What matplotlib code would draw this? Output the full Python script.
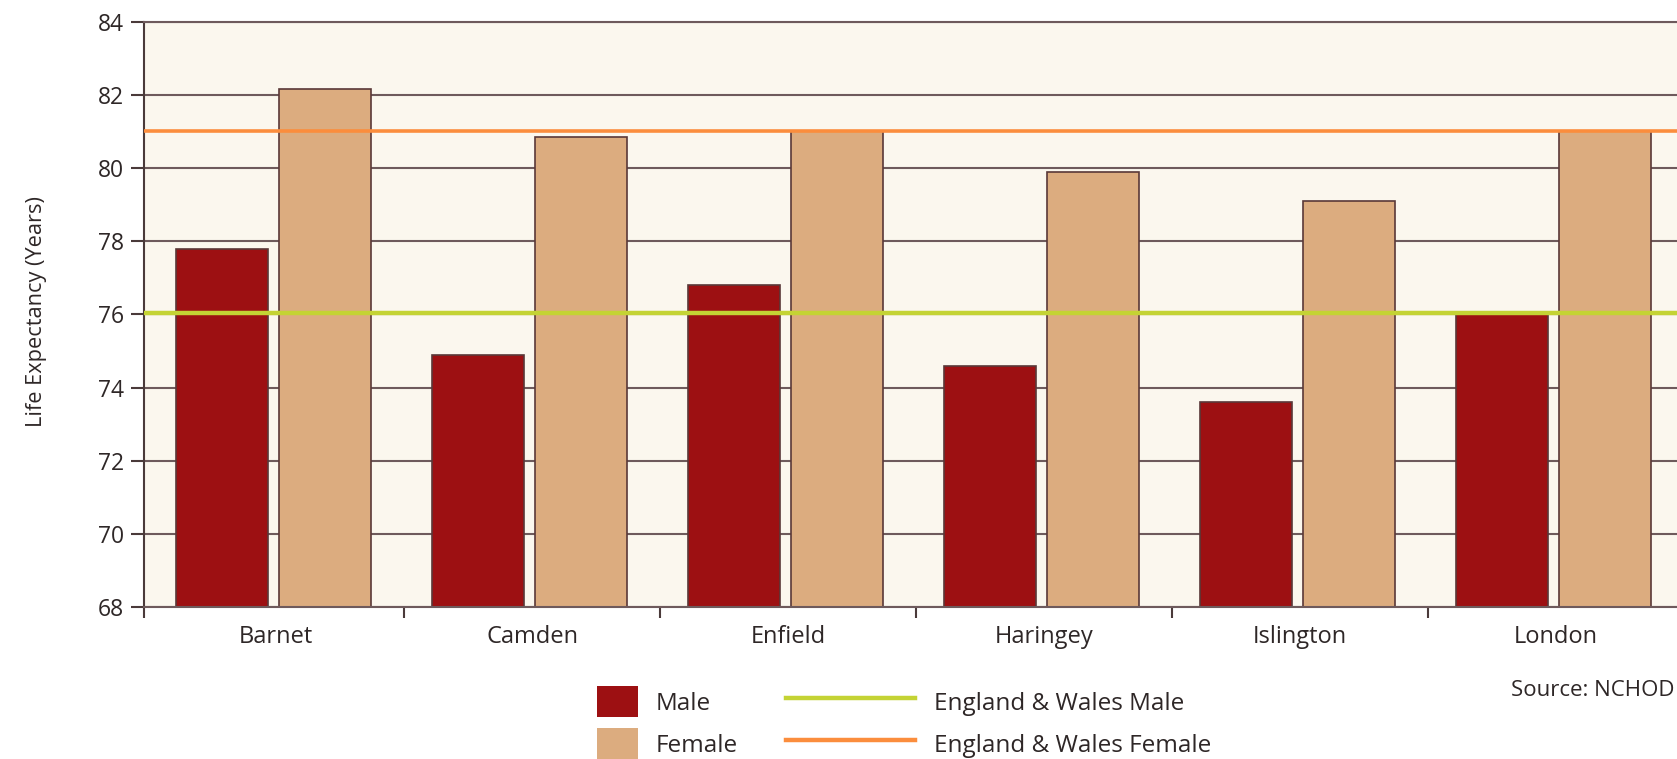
import matplotlib.pyplot as plt
import numpy as np
from matplotlib.patches import Patch
from matplotlib.lines import Line2D

plt.rcParams['font.family'] = ['Open Sans', 'DejaVu Sans']

# data
areas = ["Barnet", "Camden", "Enfield", "Haringey", "Islington", "London"]
male = [77.8, 74.9, 76.8, 74.6, 73.6, 76.0]
female = [82.15, 80.85, 81.0, 79.9, 79.1, 81.0]
ew_male = 76.05
ew_female = 81.0
y_ticks = [68, 70, 72, 74, 76, 78, 80, 82, 84]

c_male = "#9d1012"
c_female = "#dcac7f"
c_bg = "#fbf7ee"
c_grid = "#6e5a5c"
c_green = "#c4d334"
c_orange = "#fb8d3d"
c_text = "#2e2727"

W, H = 1677, 759
fig = plt.figure(figsize=(W / 100, H / 100), dpi=100)
ax = fig.add_axes([144 / W, (H - 607) / H, 1540 / W, 585.3 / H])
ax.set_facecolor(c_bg)

x = np.arange(len(areas))
ax.bar(x - 0.21, male, width=0.36, color=c_male,
       edgecolor="#5a3838", linewidth=1.2, zorder=2)
ax.bar(x + 0.19, female, width=0.36, color=c_female,
       edgecolor="#5a3838", linewidth=1.2, zorder=2)
ax.axhline(ew_male, color=c_green, lw=3.2, zorder=3)
ax.axhline(ew_female, color=c_orange, lw=2.6, zorder=3)

ax.set_ylim(68, 84)
ax.set_xlim(-0.516, 5.5)
ax.set_yticks(y_ticks)
ax.grid(axis="y", color=c_grid, lw=1.5, zorder=0)
ax.set_axisbelow(True)

ax.set_xticks(x)
ax.set_xticklabels(areas)
ax.set_xticks([-0.516] + list(x[:-1] + 0.5), minor=True)
ax.tick_params(axis="x", which="major", length=0, pad=13, labelsize=17, labelcolor=c_text)
ax.tick_params(axis="x", which="minor", length=8, width=1.5, color="#4a3a3a", direction="out")
ax.tick_params(axis="y", length=9.4, width=1.5, color="#4a3a3a", pad=5,
               labelsize=16.5, labelcolor=c_text)

ax.spines["right"].set_visible(False)
ax.spines["top"].set_color(c_grid)
ax.spines["top"].set_linewidth(1.5)
ax.spines["left"].set_color("#4a3a3a")
ax.spines["left"].set_linewidth(1.5)
ax.spines["bottom"].set_color(c_grid)
ax.spines["bottom"].set_linewidth(1.5)

ax.set_ylabel("Life Expectancy (Years)", fontsize=15.7, color=c_text)
ax.yaxis.set_label_coords((47 - 144) / 1540, 0.505)

# legends
bar_handles = [Patch(facecolor=c_male, edgecolor="none"),
               Patch(facecolor=c_female, edgecolor="none")]
fig.legend(bar_handles, ["Male", "Female"], loc="upper left",
           bbox_to_anchor=(597 / W, (H - 686) / H), frameon=False,
           fontsize=17.5, handlelength=1.7, handleheight=1.6,
           handletextpad=0.7, labelspacing=0.45, borderpad=0,
           borderaxespad=0, labelcolor=c_text)

line_handles = [Line2D([], [], color=c_green, lw=3.2),
                Line2D([], [], color=c_orange, lw=3.2)]
fig.legend(line_handles, ["England & Wales Male", "England & Wales Female"],
           loc="upper left", bbox_to_anchor=(786 / W, (H - 686) / H),
           frameon=False, fontsize=17.5, handlelength=5.3, handleheight=1.6,
           handletextpad=0.8, labelspacing=0.45, borderpad=0,
           borderaxespad=0, labelcolor=c_text)

fig.text(1511 / W, (H - 690) / H, "Source: NCHOD", fontsize=16,
         color=c_text, va="center", ha="left")

fig.savefig("out.png", dpi=100)
